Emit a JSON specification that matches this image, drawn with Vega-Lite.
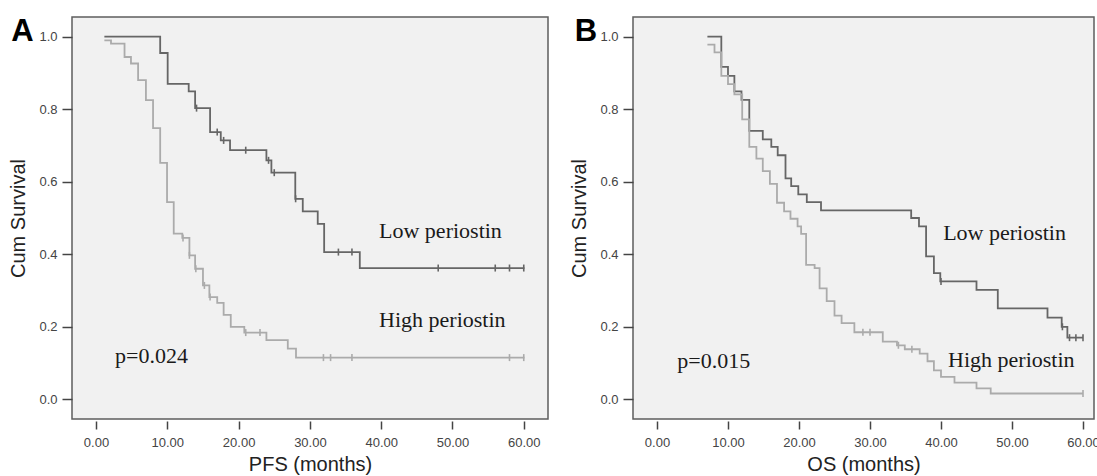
{
  "$schema": "https://vega.github.io/schema/vega-lite/v6.json",
  "padding": {"left": 8, "top": 15, "right": 0, "bottom": 0},
  "spacing": 20,
  "background": "white",
  "config": {
    "view": {"stroke": "#5e5e5e", "strokeWidth": 1.5, "fill": "#f1f1f1"},
    "axis": {
      "labelFont": "Liberation Sans", "labelFontSize": 13, "labelColor": "#444444",
      "titleFont": "Liberation Sans", "titleFontSize": 20, "titleFontWeight": "normal", "titleColor": "#222222",
      "tickColor": "#444444", "tickWidth": 1.5, "domain": false, "grid": false
    }
  },
  "datasets": {
    "pfs": [
      {"group": "low", "t": 1.17, "s": 1.0}, {"group": "low", "t": 9.0, "s": 0.955}, {"group": "low", "t": 10.05, "s": 0.870},
      {"group": "low", "t": 13.0, "s": 0.849}, {"group": "low", "t": 13.9, "s": 0.803}, {"group": "low", "t": 16.0, "s": 0.737},
      {"group": "low", "t": 17.5, "s": 0.714}, {"group": "low", "t": 18.8, "s": 0.687}, {"group": "low", "t": 23.9, "s": 0.659},
      {"group": "low", "t": 24.6, "s": 0.625}, {"group": "low", "t": 27.95, "s": 0.553}, {"group": "low", "t": 29.0, "s": 0.518},
      {"group": "low", "t": 31.1, "s": 0.484}, {"group": "low", "t": 32.0, "s": 0.406}, {"group": "low", "t": 37.0, "s": 0.362},
      {"group": "low", "t": 60.1, "s": 0.362},
      {"group": "high", "t": 1.17, "s": 0.99}, {"group": "high", "t": 2.1, "s": 0.981}, {"group": "high", "t": 4.0, "s": 0.944},
      {"group": "high", "t": 4.9, "s": 0.926}, {"group": "high", "t": 5.9, "s": 0.880}, {"group": "high", "t": 7.0, "s": 0.825},
      {"group": "high", "t": 8.0, "s": 0.748}, {"group": "high", "t": 9.0, "s": 0.652}, {"group": "high", "t": 9.96, "s": 0.544},
      {"group": "high", "t": 10.9, "s": 0.457}, {"group": "high", "t": 12.1, "s": 0.445}, {"group": "high", "t": 13.1, "s": 0.397},
      {"group": "high", "t": 13.9, "s": 0.36}, {"group": "high", "t": 15.0, "s": 0.314}, {"group": "high", "t": 15.9, "s": 0.282},
      {"group": "high", "t": 17.0, "s": 0.266}, {"group": "high", "t": 17.9, "s": 0.233}, {"group": "high", "t": 18.9, "s": 0.2},
      {"group": "high", "t": 20.8, "s": 0.184}, {"group": "high", "t": 23.9, "s": 0.163}, {"group": "high", "t": 26.9, "s": 0.14},
      {"group": "high", "t": 28.05, "s": 0.115}, {"group": "high", "t": 60.1, "s": 0.115}
    ],
    "pfs_cens": [
      {"group": "low", "t": 14.1, "s": 0.803}, {"group": "low", "t": 17.0, "s": 0.737}, {"group": "low", "t": 17.9, "s": 0.714},
      {"group": "low", "t": 21.0, "s": 0.687}, {"group": "low", "t": 24.2, "s": 0.659}, {"group": "low", "t": 25.0, "s": 0.625},
      {"group": "low", "t": 28.0, "s": 0.553}, {"group": "low", "t": 34.0, "s": 0.406}, {"group": "low", "t": 35.9, "s": 0.406},
      {"group": "low", "t": 48.0, "s": 0.362}, {"group": "low", "t": 56.0, "s": 0.362}, {"group": "low", "t": 58.0, "s": 0.362},
      {"group": "low", "t": 60.0, "s": 0.362},
      {"group": "high", "t": 12.2, "s": 0.445}, {"group": "high", "t": 13.1, "s": 0.397}, {"group": "high", "t": 14.0, "s": 0.36},
      {"group": "high", "t": 15.2, "s": 0.314}, {"group": "high", "t": 16.0, "s": 0.282}, {"group": "high", "t": 21.0, "s": 0.184},
      {"group": "high", "t": 23.0, "s": 0.184}, {"group": "high", "t": 31.9, "s": 0.115}, {"group": "high", "t": 32.9, "s": 0.115},
      {"group": "high", "t": 35.9, "s": 0.115}, {"group": "high", "t": 58.0, "s": 0.115}, {"group": "high", "t": 60.0, "s": 0.115}
    ],
    "os": [
      {"group": "low", "t": 7.1, "s": 1.0}, {"group": "low", "t": 9.06, "s": 0.917}, {"group": "low", "t": 10.0, "s": 0.892},
      {"group": "low", "t": 10.9, "s": 0.849}, {"group": "low", "t": 11.9, "s": 0.826}, {"group": "low", "t": 13.0, "s": 0.74},
      {"group": "low", "t": 14.9, "s": 0.717}, {"group": "low", "t": 16.1, "s": 0.696}, {"group": "low", "t": 17.0, "s": 0.673},
      {"group": "low", "t": 18.1, "s": 0.609}, {"group": "low", "t": 18.9, "s": 0.588}, {"group": "low", "t": 19.9, "s": 0.565},
      {"group": "low", "t": 21.1, "s": 0.544}, {"group": "low", "t": 23.1, "s": 0.521}, {"group": "low", "t": 35.8, "s": 0.5},
      {"group": "low", "t": 36.9, "s": 0.477}, {"group": "low", "t": 37.9, "s": 0.394}, {"group": "low", "t": 39.0, "s": 0.348},
      {"group": "low", "t": 39.9, "s": 0.325}, {"group": "low", "t": 45.0, "s": 0.302}, {"group": "low", "t": 48.0, "s": 0.251},
      {"group": "low", "t": 55.0, "s": 0.225}, {"group": "low", "t": 57.0, "s": 0.2}, {"group": "low", "t": 57.8, "s": 0.17},
      {"group": "low", "t": 60.0, "s": 0.17},
      {"group": "high", "t": 7.1, "s": 0.978}, {"group": "high", "t": 8.1, "s": 0.957}, {"group": "high", "t": 9.06, "s": 0.892},
      {"group": "high", "t": 10.0, "s": 0.869}, {"group": "high", "t": 10.9, "s": 0.841}, {"group": "high", "t": 12.0, "s": 0.772},
      {"group": "high", "t": 13.0, "s": 0.696}, {"group": "high", "t": 14.0, "s": 0.664}, {"group": "high", "t": 14.9, "s": 0.629},
      {"group": "high", "t": 15.9, "s": 0.594}, {"group": "high", "t": 16.9, "s": 0.542}, {"group": "high", "t": 17.9, "s": 0.518},
      {"group": "high", "t": 18.8, "s": 0.498}, {"group": "high", "t": 19.8, "s": 0.477}, {"group": "high", "t": 20.3, "s": 0.456},
      {"group": "high", "t": 21.0, "s": 0.371}, {"group": "high", "t": 22.2, "s": 0.362}, {"group": "high", "t": 22.9, "s": 0.306},
      {"group": "high", "t": 23.9, "s": 0.271}, {"group": "high", "t": 25.0, "s": 0.231}, {"group": "high", "t": 26.0, "s": 0.21},
      {"group": "high", "t": 27.8, "s": 0.185}, {"group": "high", "t": 31.8, "s": 0.159}, {"group": "high", "t": 33.8, "s": 0.149},
      {"group": "high", "t": 34.9, "s": 0.138}, {"group": "high", "t": 37.0, "s": 0.126}, {"group": "high", "t": 38.1, "s": 0.105},
      {"group": "high", "t": 39.0, "s": 0.08}, {"group": "high", "t": 40.0, "s": 0.062}, {"group": "high", "t": 41.9, "s": 0.046},
      {"group": "high", "t": 45.0, "s": 0.03}, {"group": "high", "t": 47.0, "s": 0.016}, {"group": "high", "t": 60.0, "s": 0.016}
    ],
    "os_cens": [
      {"group": "low", "t": 40.0, "s": 0.325}, {"group": "low", "t": 57.1, "s": 0.2}, {"group": "low", "t": 58.1, "s": 0.17},
      {"group": "low", "t": 59.0, "s": 0.17}, {"group": "low", "t": 60.0, "s": 0.17},
      {"group": "high", "t": 29.0, "s": 0.185}, {"group": "high", "t": 30.0, "s": 0.185}, {"group": "high", "t": 34.0, "s": 0.149},
      {"group": "high", "t": 35.9, "s": 0.138}, {"group": "high", "t": 60.0, "s": 0.016}
    ],
    "pfs_text": [
      {"t": 39.7, "s": 0.446, "label": "Low periostin"},
      {"t": 39.7, "s": 0.199, "label": "High periostin"},
      {"t": 2.66, "s": 0.1, "label": "p=0.024"}
    ],
    "os_text": [
      {"t": 40.3, "s": 0.44, "label": "Low periostin"},
      {"t": 41.0, "s": 0.089, "label": "High periostin"},
      {"t": 2.86, "s": 0.085, "label": "p=0.015"}
    ],
    "pfs_letter": [{"t": -11.9, "s": 0.988, "label": "A"}],
    "os_letter": [{"t": -11.6, "s": 0.988, "label": "B"}]
  },
  "hconcat": [
    {
      "width": 476, "height": 402,
      "encoding": {
        "x": {"field": "t", "type": "quantitative",
              "scale": {"domain": [-3.37, 63.4], "nice": false, "zero": false},
              "axis": {"title": "PFS (months)", "values": [0, 10, 20, 30, 40, 50, 60], "format": ".2f",
                       "tickSize": 8, "offset": 2, "labelPadding": 7, "titlePadding": 5}},
        "y": {"field": "s", "type": "quantitative",
              "scale": {"domain": [-0.0543, 1.0543], "nice": false, "zero": false},
              "axis": {"title": "Cum Survival", "values": [0, 0.2, 0.4, 0.6, 0.8, 1.0], "format": ".1f",
                       "tickSize": 10, "labelPadding": 5, "titlePadding": 10}}
      },
      "layer": [
        {"data": {"name": "pfs"},
         "mark": {"type": "line", "interpolate": "step-after", "strokeWidth": 1.8},
         "encoding": {"color": {"field": "group", "type": "nominal", "scale": {"domain": ["low", "high"], "range": ["#666666", "#ababab"]}, "legend": null},
                      "detail": {"field": "group"}}},
        {"data": {"name": "pfs_cens"},
         "mark": {"type": "point", "shape": "M0,-1L0,1", "filled": false, "size": 49, "strokeWidth": 1.6, "opacity": 1},
         "encoding": {"color": {"field": "group", "type": "nominal", "scale": {"domain": ["low", "high"], "range": ["#666666", "#ababab"]}, "legend": null}}},
        {"data": {"name": "pfs_text"},
         "mark": {"type": "text", "font": "Liberation Serif", "fontSize": 22, "align": "left", "baseline": "alphabetic", "color": "#1a1a1a"},
         "encoding": {"text": {"field": "label"}}},
        {"data": {"name": "pfs_letter"},
         "mark": {"type": "text", "font": "Liberation Sans", "fontSize": 31, "fontWeight": "bold", "align": "left", "baseline": "alphabetic", "color": "#000000"},
         "encoding": {"text": {"field": "label"}}}
      ]
    },
    {
      "width": 461, "height": 402,
      "encoding": {
        "x": {"field": "t", "type": "quantitative",
              "scale": {"domain": [-3.38, 61.55], "nice": false, "zero": false},
              "axis": {"title": "OS (months)", "values": [0, 10, 20, 30, 40, 50, 60], "format": ".2f",
                       "tickSize": 8, "offset": 2, "labelPadding": 7, "titlePadding": 5}},
        "y": {"field": "s", "type": "quantitative",
              "scale": {"domain": [-0.0543, 1.0543], "nice": false, "zero": false},
              "axis": {"title": "Cum Survival", "values": [0, 0.2, 0.4, 0.6, 0.8, 1.0], "format": ".1f",
                       "tickSize": 10, "labelPadding": 5, "titlePadding": 10}}
      },
      "layer": [
        {"data": {"name": "os"},
         "mark": {"type": "line", "interpolate": "step-after", "strokeWidth": 1.8},
         "encoding": {"color": {"field": "group", "type": "nominal", "scale": {"domain": ["low", "high"], "range": ["#666666", "#ababab"]}, "legend": null},
                      "detail": {"field": "group"}}},
        {"data": {"name": "os_cens"},
         "mark": {"type": "point", "shape": "M0,-1L0,1", "filled": false, "size": 49, "strokeWidth": 1.6, "opacity": 1},
         "encoding": {"color": {"field": "group", "type": "nominal", "scale": {"domain": ["low", "high"], "range": ["#666666", "#ababab"]}, "legend": null}}},
        {"data": {"name": "os_text"},
         "mark": {"type": "text", "font": "Liberation Serif", "fontSize": 22, "align": "left", "baseline": "alphabetic", "color": "#1a1a1a"},
         "encoding": {"text": {"field": "label"}}},
        {"data": {"name": "os_letter"},
         "mark": {"type": "text", "font": "Liberation Sans", "fontSize": 31, "fontWeight": "bold", "align": "left", "baseline": "alphabetic", "color": "#000000"},
         "encoding": {"text": {"field": "label"}}}
      ]
    }
  ]
}
